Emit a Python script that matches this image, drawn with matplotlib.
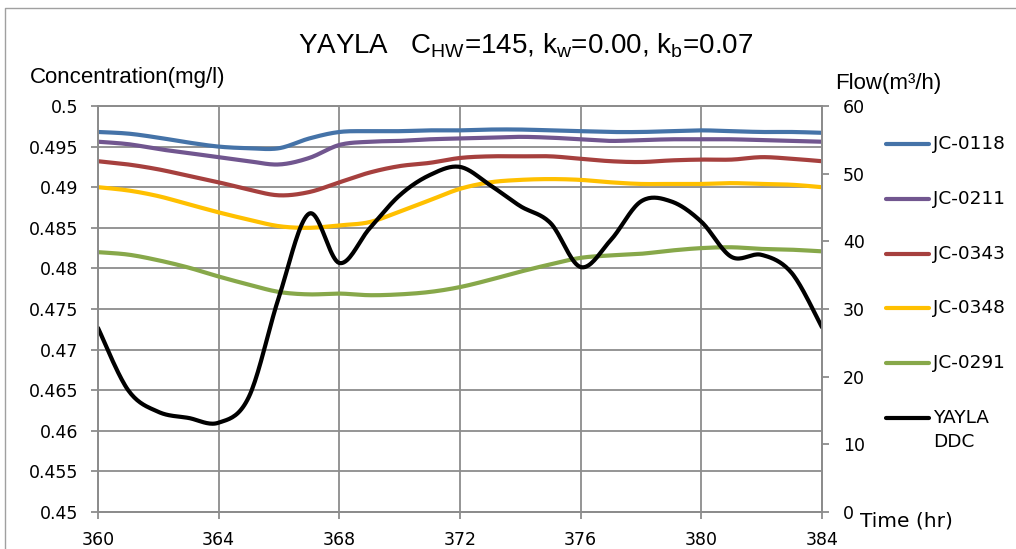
import numpy as np
import matplotlib
matplotlib.use("Agg")
import matplotlib.pyplot as plt
from matplotlib.lines import Line2D

plt.rcParams["font.family"] = ["DejaVu Sans"]
plt.rcParams["mathtext.fontset"] = "custom"
plt.rcParams["mathtext.rm"] = "Liberation Sans"

# hourly values
hours = list(range(360, 385))

jc_0118 = [0.4968, 0.4966, 0.4961, 0.4955, 0.4950, 0.4948, 0.4948, 0.4960, 0.4968,
           0.4969, 0.4969, 0.4970, 0.4970, 0.4971, 0.4971, 0.4970, 0.4969, 0.4968,
           0.4968, 0.4969, 0.4970, 0.4969, 0.4968, 0.4968, 0.4967]
jc_0211 = [0.4956, 0.4953, 0.4947, 0.4942, 0.4937, 0.4932, 0.4928, 0.4936, 0.4952,
           0.4956, 0.4957, 0.4959, 0.4960, 0.4961, 0.4962, 0.4961, 0.4959, 0.4957,
           0.4958, 0.4959, 0.4959, 0.4959, 0.4958, 0.4957, 0.4956]
jc_0343 = [0.4932, 0.4928, 0.4922, 0.4914, 0.4906, 0.4897, 0.4890, 0.4894, 0.4906,
           0.4918, 0.4926, 0.4930, 0.4936, 0.4938, 0.4938, 0.4938, 0.4935, 0.4932,
           0.4931, 0.4933, 0.4934, 0.4934, 0.4937, 0.4935, 0.4932]
jc_0348 = [0.4900, 0.4896, 0.4889, 0.4879, 0.4869, 0.4860, 0.4852, 0.4850, 0.4853,
           0.4857, 0.4870, 0.4884, 0.4898, 0.4906, 0.4909, 0.4910, 0.4909, 0.4906,
           0.4904, 0.4904, 0.4904, 0.4905, 0.4904, 0.4903, 0.4900]
jc_0291 = [0.4820, 0.4817, 0.4810, 0.4801, 0.4790, 0.4780, 0.4771, 0.4768, 0.4769,
           0.4767, 0.4768, 0.4771, 0.4777, 0.4786, 0.4796, 0.4805, 0.4813, 0.4816,
           0.4818, 0.4822, 0.4825, 0.4826, 0.4824, 0.4823, 0.4821]
yayla_ddc = [27.2, 18.0, 14.8, 13.9, 13.2, 17.0, 31.8, 44.1, 36.8, 41.9, 46.8, 49.8,
             51.0, 48.3, 45.2, 42.7, 36.2, 40.2, 45.9, 45.9, 42.9, 37.7, 38.0, 35.3, 27.3]

conc_series = [("JC-0118", jc_0118, "#4573A8"),
               ("JC-0211", jc_0211, "#71568F"),
               ("JC-0343", jc_0343, "#A6403E"),
               ("JC-0348", jc_0348, "#FFC000"),
               ("JC-0291", jc_0291, "#87A84A")]


def smooth(x, y, n=20):
    # Catmull-Rom style smoothing, like Excel's "smoothed line"
    x = np.asarray(x, float)
    y = np.asarray(y, float)
    px = np.concatenate([[x[0]], x, [x[-1]]])
    py = np.concatenate([[y[0]], y, [y[-1]]])
    xs, ys = [], []
    t = np.linspace(0, 1, n, endpoint=False)
    for i in range(1, len(px) - 2):
        for arr, out in ((px, xs), (py, ys)):
            p0, p1, p2, p3 = arr[i - 1], arr[i], arr[i + 1], arr[i + 2]
            out.extend(0.5 * (2 * p1 + (-p0 + p2) * t
                              + (2 * p0 - 5 * p1 + 4 * p2 - p3) * t ** 2
                              + (-p0 + 3 * p1 - 3 * p2 + p3) * t ** 3))
    xs.append(x[-1])
    ys.append(y[-1])
    return np.array(xs), np.array(ys)


grid_c = "#8C8C8C"
narrow = "Liberation Sans"
fig = plt.figure(figsize=(10.16, 5.49), dpi=100)
ax = fig.add_axes([98 / 1016, 37 / 549, 724 / 1016, 406 / 549])
ax2 = ax.twinx()

for name, vals, col in conc_series:
    sx, sy = smooth(hours, vals)
    ax.plot(sx, sy, color=col, lw=3.0, solid_capstyle="round")

fx, fy = smooth(hours, yayla_ddc)
ax2.plot(fx, fy, color="black", lw=3.0, solid_capstyle="round")

ax.set_xlim(360, 384)
ax.set_ylim(0.45, 0.5)
ax2.set_ylim(0, 60)
ax.set_xticks(range(360, 385, 4))
yt = np.round(np.arange(0.45, 0.5001, 0.005), 3)
ax.set_yticks(yt)
ax.set_yticklabels(["%g" % v for v in yt])
ax2.set_yticks(range(0, 61, 10))

ax.grid(True, color=grid_c, lw=1.3)
ax.set_axisbelow(True)
for a in (ax, ax2):
    for s in a.spines.values():
        s.set_color(grid_c)
        s.set_linewidth(1.3)
ax.tick_params(axis="both", colors=grid_c, labelcolor="black", labelsize=12.5,
               length=5, width=1.3)
ax.tick_params(axis="y", pad=9)
ax.tick_params(axis="x", pad=9)
ax2.tick_params(axis="y", colors=grid_c, labelcolor="black", labelsize=12.5,
                length=5, width=1.3, pad=10)

fig.text(526 / 1016, 1 - 46 / 549,
         r"YAYLA   C$_{\mathrm{HW}}$=145, k$_{\mathrm{w}}$=0.00, k$_{\mathrm{b}}$=0.07",
         ha="center", va="center", fontsize=20, family=narrow)
fig.text(30 / 1016, 1 - 77 / 549, "Concentration(mg/l)", ha="left", va="center",
         fontsize=16, family=narrow)
fig.text(835 / 1016, 1 - 84 / 549, "Flow(m³/h)", ha="left", va="center", fontsize=16,
         family=narrow)
fig.text(860 / 1016, 1 - 521 / 549, "Time (hr)", ha="left", va="center", fontsize=14.5)

# legend drawn at the right of the plot
leg_items = [(n, c) for n, _, c in conc_series] + [("YAYLA\nDDC", "black")]
for i, (name, col) in enumerate(leg_items):
    yy = 1 - (144 + i * 54.8) / 549
    fig.add_artist(Line2D([886 / 1016, 929 / 1016], [yy, yy], color=col, lw=3.0,
                          solid_capstyle="round"))
    fig.text(933 / 1016, yy + 9 / 549, name, ha="left", va="top", fontsize=13.3,
             linespacing=1.45)

# chart area border
fig.add_artist(Line2D([5 / 1016, 5 / 1016, 1.0], [0, 1 - 8 / 549, 1 - 8 / 549],
                      color="#A0A0A0", lw=1.0))

fig.savefig("out.png", dpi=100)
